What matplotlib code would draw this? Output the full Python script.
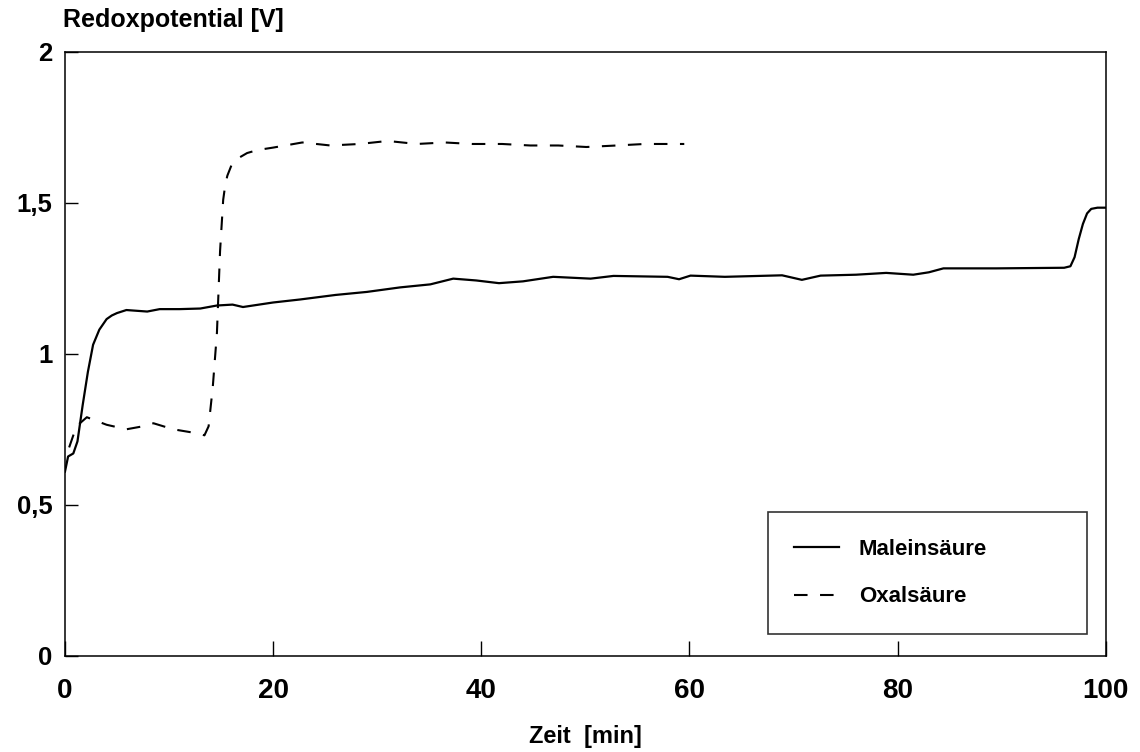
import matplotlib
matplotlib.use("Agg")
import matplotlib.pyplot as plt

plt.rcParams['font.family'] = ['Liberation Sans', 'DejaVu Sans']
plt.rcParams['font.weight'] = 'bold'
plt.rcParams['axes.labelweight'] = 'bold'

# Maleinsäure (solid)
t_malein = [0, 0.3, 0.8, 1.2, 1.7, 2.2, 2.7, 3.3, 3.7, 4.0, 4.5, 5.0, 5.9, 7.9,
            9.1, 11, 13, 14.6, 16.1, 17.1, 20, 22.6, 26, 29, 32.2, 35.1, 37.3,
            39.5, 41.7, 44, 46.9, 50.5, 52.7, 57.9, 59, 60.1, 63.4, 68.9, 70.8,
            72.6, 76, 78.9, 81.5, 83, 84.4, 89.5, 96.0, 96.6, 97.0, 97.4, 97.8,
            98.2, 98.6, 99.2, 100]
v_malein = [0.61, 0.66, 0.67, 0.71, 0.83, 0.94, 1.03, 1.08, 1.10, 1.115, 1.127,
            1.135, 1.145, 1.14, 1.148, 1.148, 1.15, 1.16, 1.163, 1.155, 1.17,
            1.18, 1.195, 1.205, 1.22, 1.23, 1.249, 1.243, 1.234, 1.24, 1.255,
            1.249, 1.258, 1.255, 1.247, 1.259, 1.255, 1.26, 1.245, 1.259, 1.262,
            1.268, 1.262, 1.27, 1.283, 1.283, 1.285, 1.29, 1.32, 1.38, 1.43,
            1.465, 1.48, 1.484, 1.484]

# Oxalsäure (dashed)
t_oxal = [0.4, 1.1, 2.1, 4, 5.9, 7.5, 8.5, 10.4, 13.0, 13.4, 13.8, 14.2, 14.6,
          14.9, 15.2, 15.4, 15.6, 16.0, 16.5, 17.5, 18.5, 20, 22.8, 25.5, 28.3,
          31, 33.8, 36.5, 39.1, 42, 44.7, 47.4, 50.1, 53, 55.7, 59.5]
v_oxal = [0.69, 0.76, 0.79, 0.765, 0.75, 0.76, 0.77, 0.75, 0.735, 0.73, 0.76,
          0.89, 1.07, 1.34, 1.51, 1.56, 1.59, 1.625, 1.645, 1.665, 1.675, 1.683,
          1.70, 1.69, 1.695, 1.705, 1.695, 1.70, 1.695, 1.695, 1.69, 1.69,
          1.685, 1.69, 1.695, 1.695]

x_ticks = [0, 20, 40, 60, 80, 100]
y_ticks = [0, 0.5, 1, 1.5, 2]
y_labels = ['0', '0,5', '1', '1,5', '2']

fig = plt.figure(figsize=(11.4, 7.52), dpi=100)
ax = fig.add_axes([0.057, 0.128, 0.913, 0.803])

ax.plot(t_malein, v_malein, color='black', lw=1.6, label='Maleinsäure')
ax.plot(t_oxal, v_oxal, color='black', lw=1.5, dashes=(6.5, 6), label='Oxalsäure')

ax.set_xlim(0, 100)
ax.set_ylim(0, 2)
ax.set_xticks(x_ticks)
ax.set_xticklabels([str(x) for x in x_ticks])
ax.set_yticks(y_ticks)
ax.set_yticklabels(y_labels)
ax.tick_params(axis='x', direction='in', length=11, width=1, pad=16, labelsize=20)
ax.tick_params(axis='y', direction='in', length=9, width=1, pad=9, labelsize=18.5)
for s in ax.spines.values():
    s.set_linewidth(1.1)

ax.set_xlabel('Zeit  [min]', fontsize=17, labelpad=15)
fig.text(63 / 1140, 1 - 20 / 752, 'Redoxpotential [V]', fontsize=18,
         ha='left', va='center')

leg = ax.legend(loc='upper left', bbox_to_anchor=(0.675, 0.043, 0.307, 0.195),
                mode='expand', fontsize=16, frameon=True, fancybox=False,
                edgecolor='black', borderpad=1.2, labelspacing=1.2,
                handlelength=2.0, handletextpad=0.9, borderaxespad=0)
leg.get_frame().set_linewidth(1.2)

fig.savefig('out.png', dpi=100)
